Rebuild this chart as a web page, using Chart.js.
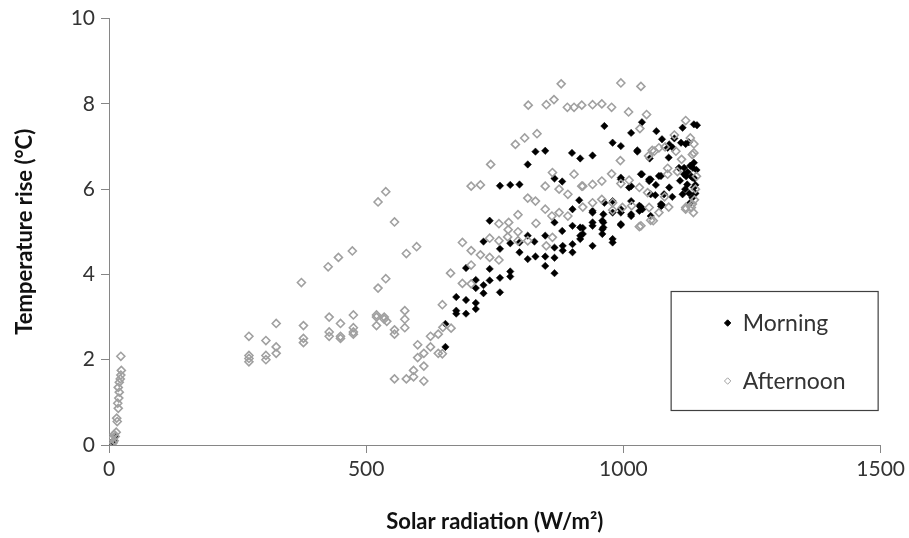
<!DOCTYPE html>
<html>
<head>
<meta charset="utf-8">
<script src="https://cdn.jsdelivr.net/npm/chart.js@4.4.1/dist/chart.umd.min.js"></script>
<style>
  html, body { margin: 0; padding: 0; background: #fff; }
  #wrap { width: 909px; height: 538px; }
</style>
</head>
<body>
<div id="wrap"><canvas id="tempChart" width="909" height="538"></canvas></div>
<script>
// solar radiation (W/m2), temperature rise (degC)
const morningPoints = [
    [0, 0.0], [3, 0.05], [6, 0.02], [9, 0.1], [12, 0.2],
    [654, 2.30], [654, 2.84], [675, 3.47], [675, 3.15], [675, 3.08], [694, 3.40], [694, 3.08], [694, 4.15],
    [713, 3.87], [713, 3.68], [713, 3.33], [713, 3.19], [728, 4.77], [728, 3.75], [728, 3.56],
    [740, 5.26], [740, 4.13], [740, 3.86], [760, 6.08], [760, 4.60], [760, 3.92], [760, 3.58],
    [780, 6.10], [780, 4.73], [780, 4.07], [780, 3.95], [798, 6.11], [798, 4.75], [798, 4.52],
    [814, 6.58], [814, 4.91], [814, 4.36], [827, 4.77], [829, 6.88], [829, 4.42],
    [848, 6.90], [848, 4.91], [848, 4.42], [848, 4.20], [866, 6.25], [866, 5.22], [866, 4.63], [866, 4.39], [866, 4.03],
    [881, 6.18], [881, 5.02], [882, 4.67], [882, 4.56], [900, 6.85], [901, 5.53], [901, 5.14], [901, 4.71], [901, 4.52],
    [914, 5.74], [916, 6.72], [916, 5.10], [916, 4.91], [916, 4.83], [921, 5.09], [921, 4.95],
    [940, 6.79], [940, 5.45], [940, 5.49], [940, 5.22], [940, 5.14], [940, 4.67],
    [959, 5.26], [959, 5.06], [959, 4.95], [961, 5.41], [961, 5.22], [961, 5.10], [963, 7.48], [963, 5.68],
    [979, 7.09], [979, 5.72], [979, 5.45], [979, 4.83], [979, 4.75],
    [995, 7.01], [995, 6.27], [995, 6.23], [995, 5.53], [995, 5.45], [995, 5.18], [995, 5.16],
    [1011, 6.04], [1015, 7.32], [1015, 6.07], [1015, 5.72], [1015, 5.41], [1015, 5.37],
    [1027, 6.91], [1027, 6.88], [1031, 5.61], [1031, 5.49], [1034, 6.35], [1034, 5.58], [1036, 7.57], [1036, 6.35], [1037, 5.53],
    [1050, 6.23], [1050, 6.19], [1051, 6.72], [1053, 6.23], [1053, 5.88], [1053, 5.37], [1062, 5.86], [1063, 6.10], [1064, 7.36],
    [1069, 6.31], [1073, 6.31], [1073, 5.65], [1073, 5.60], [1075, 7.17], [1075, 5.63], [1079, 5.88],
    [1086, 6.97], [1088, 6.74], [1089, 7.05], [1089, 6.04], [1095, 5.82], [1096, 6.97], [1099, 7.19],
    [1108, 6.50], [1110, 6.20], [1112, 7.09], [1115, 7.44], [1115, 5.88], [1118, 6.50], [1118, 6.35],
    [1120, 6.00], [1121, 7.06], [1122, 6.30], [1124, 6.11], [1125, 6.40], [1127, 7.10], [1128, 5.90],
    [1130, 5.68], [1130, 6.55], [1132, 6.30], [1134, 6.27], [1134, 5.80], [1135, 6.50],
    [1137, 7.52], [1137, 6.62], [1137, 6.04], [1138, 6.25], [1140, 6.10], [1140, 5.90], [1142, 6.45], [1143, 7.50]
];

const afternoonPoints = [
    [5, 0.0], [6, 0.15], [8, 0.05], [10, 0.1], [10, 0.25], [12, 0.2], [14, 0.3], [16, 0.55], [15, 0.63],
    [18, 0.86], [17, 0.98], [19, 1.10], [20, 1.24], [18, 1.35], [20, 1.47], [22, 1.55], [23, 1.64], [24, 1.75], [23, 2.08],
    [272, 2.55], [272, 2.10], [272, 2.03], [272, 1.95], [305, 2.45], [305, 2.10], [305, 2.00],
    [325, 2.85], [325, 2.30], [325, 2.15], [374, 3.81], [378, 2.80], [378, 2.50], [378, 2.40],
    [426, 4.18], [428, 3.00], [428, 2.65], [428, 2.55], [446, 4.40], [450, 2.85], [450, 2.55], [450, 2.50],
    [473, 4.55], [475, 3.05], [475, 2.75], [475, 2.65], [475, 2.60],
    [520, 3.05], [520, 3.00], [520, 2.80], [523, 5.70], [523, 3.68], [535, 3.00], [535, 2.95], [538, 5.94], [538, 3.90], [540, 2.90],
    [555, 5.23], [555, 2.70], [555, 2.60], [555, 1.55], [575, 3.15], [575, 2.95], [575, 2.75], [578, 4.49], [578, 1.55],
    [592, 1.60], [592, 1.75], [598, 4.65], [600, 2.05], [600, 2.35], [612, 1.50], [612, 1.85], [612, 2.15],
    [625, 2.30], [625, 2.55], [640, 2.15], [640, 2.60], [648, 3.29], [648, 2.14], [649, 2.76],
    [664, 4.03], [665, 2.74], [687, 4.75], [687, 3.79], [704, 6.07], [704, 4.56], [704, 4.22], [704, 3.78],
    [722, 6.10], [722, 4.46], [740, 4.85], [740, 4.40], [742, 6.58], [758, 5.19], [758, 4.79], [758, 4.34],
    [775, 4.88], [776, 5.05], [777, 5.22], [790, 7.05], [795, 5.40], [795, 5.00], [795, 4.79],
    [808, 7.20], [814, 5.79], [814, 4.79], [815, 7.97], [829, 5.72], [830, 5.20], [832, 7.30],
    [848, 6.07], [848, 5.53], [850, 4.67], [850, 7.98], [861, 5.37], [862, 6.39], [862, 4.87], [865, 8.10],
    [875, 6.00], [875, 5.45], [879, 8.47], [891, 7.92], [892, 5.88], [892, 5.37],
    [904, 7.92], [904, 6.35], [919, 7.97], [919, 6.07], [921, 5.58], [921, 6.07],
    [940, 7.98], [940, 6.11], [940, 5.68], [958, 8.00], [958, 6.19], [958, 5.76],
    [977, 7.92], [977, 6.36], [979, 5.51], [979, 5.68], [994, 6.67], [995, 8.49], [995, 6.13], [998, 5.57],
    [1010, 7.81], [1011, 6.21], [1016, 5.61], [1031, 6.04], [1031, 5.12], [1032, 7.42], [1034, 8.41], [1034, 5.14],
    [1045, 7.75], [1047, 5.92], [1049, 6.78], [1050, 5.57], [1053, 5.27], [1056, 6.91], [1058, 5.26], [1060, 6.89],
    [1069, 6.97], [1069, 5.45], [1080, 5.82], [1081, 6.99], [1086, 6.49], [1086, 6.35], [1088, 5.58],
    [1099, 7.27], [1102, 6.89], [1105, 6.41], [1113, 6.70], [1121, 7.61], [1121, 5.57], [1121, 5.53],
    [1130, 7.20], [1132, 5.57], [1134, 6.81], [1134, 5.65], [1136, 5.45], [1137, 7.06], [1137, 6.85],
    [1138, 5.75], [1140, 6.00], [1142, 6.30]
];

const xTicks = [0, 500, 1000, 1500];
const yTicks = [0, 2, 4, 6, 8, 10];
const seriesNames = ['Morning', 'Afternoon'];

const FONT = 'Lato, "Open Sans", sans-serif';
const AXIS_GREY = '#868686';
const TEXT_DARK = '#333333';

const toXY = (pts) => pts.map(p => ({ x: p[0], y: p[1] }));

// boxed legend drawn inside the plot, lower right
const boxLegend = {
    id: 'boxLegend',
    afterDraw(chart) {
        const ctx = chart.ctx;
        const ca = chart.chartArea;
        const left = ca.right - 210, top = ca.bottom - 154, w = 207, h = 119;
        ctx.save();
        ctx.strokeStyle = '#404040';
        ctx.lineWidth = 1.2;
        ctx.strokeRect(left + 0.5, top + 0.5, w, h);
        const rows = [
            { y: top + 32, ds: chart.data.datasets[0] },
            { y: top + 90, ds: chart.data.datasets[1] }
        ];
        rows.forEach((r, i) => {
            ctx.fillStyle = i === 0 ? '#000' : '#fff';
            ctx.strokeStyle = r.ds.borderColor;
            ctx.lineWidth = 1;
            Chart.helpers.drawPoint(ctx, { pointStyle: 'rectRot', radius: 3.2, borderWidth: 1 }, left + 57, r.y);
            ctx.fillStyle = TEXT_DARK;
            ctx.font = '23px ' + FONT;
            ctx.textBaseline = 'middle';
            ctx.textAlign = 'left';
            ctx.fillText(seriesNames[i], left + 72, r.y + 1);
        });
        ctx.restore();
    }
};

const ctx = document.getElementById('tempChart').getContext('2d');
const chart = new Chart(ctx, {
    type: 'scatter',
    data: {
        datasets: [
            {
                label: seriesNames[0],
                data: toXY(morningPoints),
                pointStyle: 'rectRot',
                pointRadius: 3.7,
                backgroundColor: '#000',
                borderColor: '#000',
                borderWidth: 0.5,
                order: 1
            },
            {
                label: seriesNames[1],
                data: toXY(afternoonPoints),
                pointStyle: 'rectRot',
                pointRadius: 4,
                backgroundColor: 'rgba(255,255,255,0)',
                borderColor: '#a0a0a0',
                borderWidth: 1.6,
                order: 0
            }
        ]
    },
    options: {
        responsive: false,
        animation: false,
        layout: { padding: { top: 17, right: 27, left: 0, bottom: 0 } },
        plugins: {
            legend: { display: false },
            tooltip: { enabled: false }
        },
        scales: {
            x: {
                type: 'linear',
                min: 0,
                max: 1500,
                afterBuildTicks: (s) => { s.ticks = xTicks.map(v => ({ value: v })); },
                afterFit: (s) => { s.height = 93; },
                border: { color: AXIS_GREY, width: 1 },
                grid: { drawOnChartArea: false, color: AXIS_GREY, tickLength: 8 },
                ticks: {
                    color: TEXT_DARK,
                    font: { family: FONT, size: 21 },
                    padding: 4,
                    maxRotation: 0,
                    callback: (v) => String(v)
                },
                title: {
                    display: true,
                    text: 'Solar radiation (W/m²)',
                    color: '#111',
                    font: { family: FONT, size: 22, weight: 'bold' },
                    padding: { top: 0, bottom: 3 }
                }
            },
            y: {
                type: 'linear',
                min: 0,
                max: 10,
                afterBuildTicks: (s) => { s.ticks = yTicks.map(v => ({ value: v })); },
                afterFit: (s) => { s.width = 109; },
                border: { color: AXIS_GREY, width: 1 },
                grid: { drawOnChartArea: false, color: AXIS_GREY, tickLength: 8 },
                ticks: {
                    color: TEXT_DARK,
                    font: { family: FONT, size: 21 },
                    padding: 6,
                    callback: (v) => String(v)
                },
                title: {
                    display: true,
                    text: 'Temperature rise (°C)',
                    color: '#111',
                    font: { family: FONT, size: 22, weight: 'bold' },
                    padding: { top: 12, bottom: 0 }
                }
            }
        }
    },
    plugins: [boxLegend]
});
</script>
</body>
</html>
